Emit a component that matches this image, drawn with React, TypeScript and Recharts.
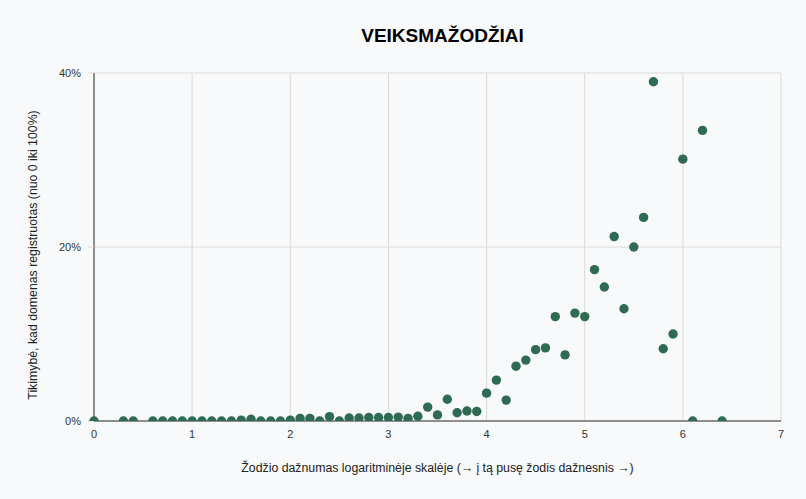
import React from "react";
import { ScatterChart, Scatter, XAxis, YAxis, CartesianGrid } from "recharts";

const xValues = [
  0, 0.3, 0.4, 0.6, 0.7, 0.8, 0.9, 1.0, 1.1, 1.2, 1.3, 1.4, 1.5, 1.6, 1.7, 1.8, 1.9,
  2.0, 2.1, 2.2, 2.3, 2.4, 2.5, 2.6, 2.7, 2.8, 2.9, 3.0, 3.1, 3.2, 3.3, 3.4, 3.5, 3.6,
  3.7, 3.8, 3.9, 4.0, 4.1, 4.2, 4.3, 4.4, 4.5, 4.6, 4.7, 4.8, 4.9, 5.0, 5.1, 5.2, 5.3,
  5.4, 5.5, 5.6, 5.7, 5.8, 5.9, 6.0, 6.1, 6.2, 6.4,
];
const yPercent = [
  0, 0, 0, 0, 0, 0, 0, 0, 0, 0, 0, 0, 0.1, 0.2, 0, 0, 0,
  0.1, 0.3, 0.3, 0, 0.5, 0, 0.35, 0.35, 0.4, 0.4, 0.4, 0.45, 0.3, 0.55, 1.6, 0.7, 2.5,
  0.95, 1.15, 1.1, 3.2, 4.7, 2.4, 6.3, 7.0, 8.2, 8.4, 12.0, 7.6, 12.4, 12.0, 17.4, 15.4, 21.2,
  12.9, 20.0, 23.4, 39.0, 8.3, 10.0, 30.1, 0, 33.4, 0,
];
const xTicks = [0, 1, 2, 3, 4, 5, 6, 7];
const yTicks = [0, 0.2, 0.4];

const title = "VEIKSMAŽODŽIAI";
const xLabel = "Žodžio dažnumas logaritminėje skalėje (→ į tą pusę žodis dažnesnis →)";
const yLabel = "Tikimybė, kad domenas registruotas (nuo 0 iki 100%)";

const data = xValues.map((x, i) => ({ x, y: yPercent[i] / 100 }));

const FONT = "'Liberation Sans', Arial, sans-serif";
const DOT = "#2f6a53";
const CHART_W = 806;
const CHART_H = 499;
const X_AXIS_H = 78;
const PLOT_BOTTOM = CHART_H - X_AXIS_H;
const R = 4.7;

const Dot = (p: any) => {
  const id = `dotclip-${p.index ?? Math.round(p.cx * 10)}`;
  return (
    <g>
      <clipPath id={id}>
        <rect x={p.cx - 10} y={p.cy - 10} width={20} height={Math.max(0, PLOT_BOTTOM - (p.cy - 10))} />
      </clipPath>
      <circle cx={p.cx} cy={p.cy} r={R} fill={DOT} clipPath={`url(#${id})`} />
    </g>
  );
};

export default function App() {
  return (
    <div
      style={{
        position: "absolute",
        left: 0,
        top: 0,
        width: CHART_W,
        height: CHART_H,
        background: "#f8f9fa",
        fontFamily: FONT,
      }}
    >
      <div
        style={{
          position: "absolute",
          left: 0,
          width: 885,
          top: 25,
          textAlign: "center",
          fontWeight: "bold",
          fontSize: 19,
          color: "#000",
        }}
      >
        {title}
      </div>
      <ScatterChart
        width={CHART_W}
        height={CHART_H}
        margin={{ top: 73, right: 25, bottom: 0, left: 0 }}
        style={{ position: "absolute", left: 0, top: 0 }}
      >
        <CartesianGrid stroke="#d9d9d9" strokeWidth={1} />
        <XAxis
          type="number"
          dataKey="x"
          domain={[0, 7]}
          ticks={xTicks}
          height={X_AXIS_H}
          tickLine={false}
          tickSize={0}
          tickMargin={9}
          axisLine={{ stroke: "#333", strokeWidth: 1 }}
          tick={{ fill: "#333", fontSize: 11, fontFamily: FONT }}
          label={{
            value: xLabel,
            position: "insideBottom",
            offset: 27,
            fill: "#222",
            fontSize: 12.3,
            fontFamily: FONT,
          }}
        />
        <YAxis
          type="number"
          dataKey="y"
          domain={[0, 0.4]}
          ticks={yTicks}
          width={94}
          tickSize={6}
          tickMargin={7}
          tickLine={{ stroke: "#d9d9d9" }}
          axisLine={{ stroke: "#333", strokeWidth: 1 }}
          tickFormatter={(v: number) => `${Math.round(v * 100)}%`}
          tick={{ fill: "#333", fontSize: 11, fontFamily: FONT }}
          label={{
            value: yLabel,
            angle: -90,
            position: "insideLeft",
            offset: 33,
            dy: 8,
            fill: "#222",
            fontSize: 12.3,
            fontFamily: FONT,
            style: { textAnchor: "middle" },
          }}
        />
        <Scatter data={data} isAnimationActive={false} shape={Dot} />
      </ScatterChart>
    </div>
  );
}
